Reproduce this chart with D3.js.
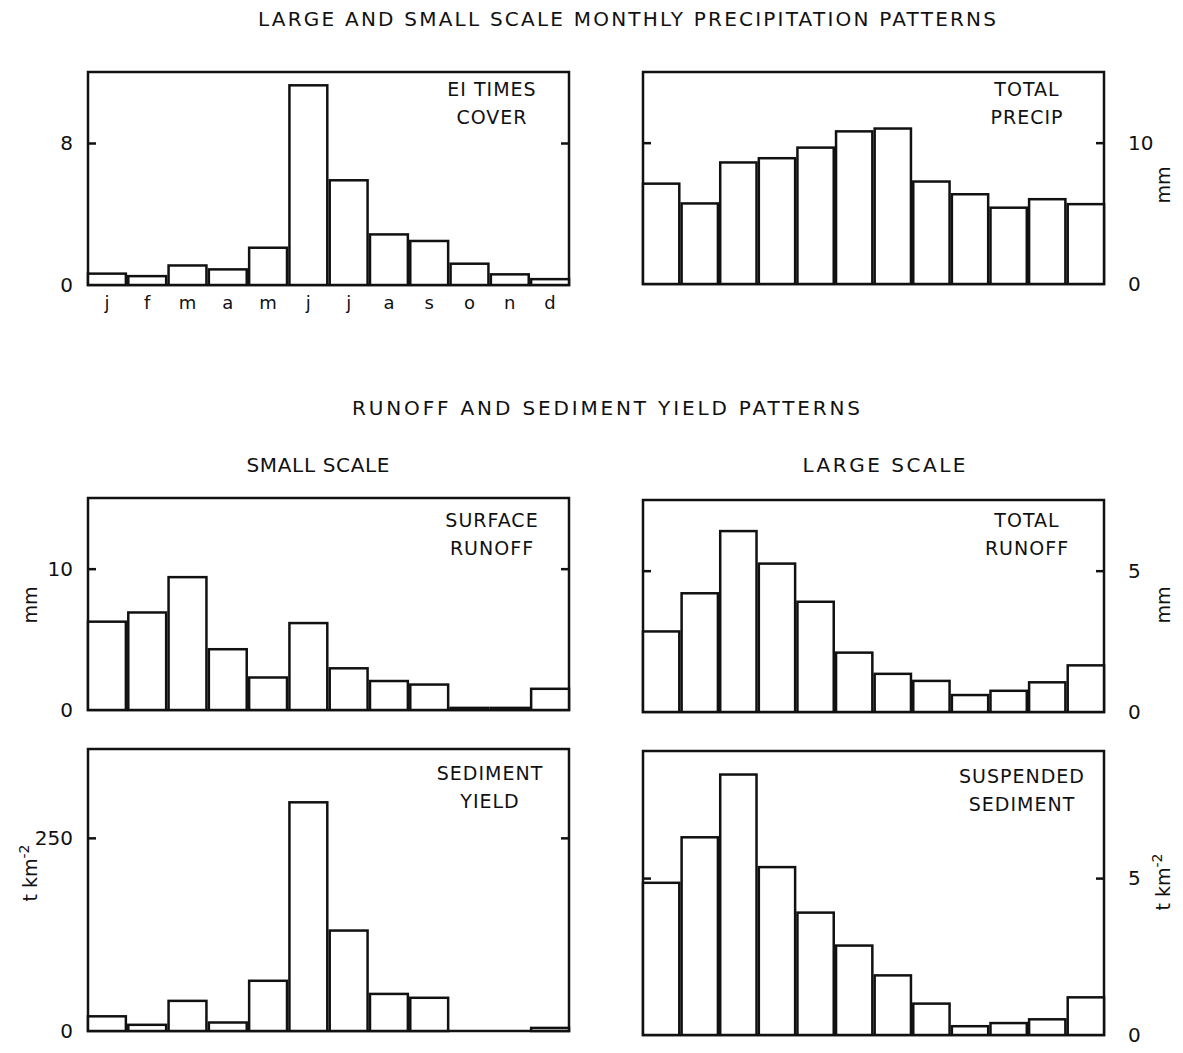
<!DOCTYPE html>
<html>
<head>
<meta charset="utf-8">
<script src="https://cdn.jsdelivr.net/npm/d3@7"></script>
<style>
  body { margin: 0; background: #fff; }
  text { font-family: "DejaVu Sans", sans-serif; fill: #111; }
</style>
</head>
<body>
<svg id="chart"></svg>
<script>
// monthly values
var months = ["j", "f", "m", "a", "m", "j", "j", "a", "s", "o", "n", "d"];
var eiCover = [0.64, 0.5, 1.1, 0.88, 2.1, 11.25, 5.9, 2.85, 2.48, 1.2, 0.6, 0.33];
var totalPrecip = [7.1, 5.7, 8.6, 8.9, 9.65, 10.8, 11.0, 7.25, 6.35, 5.4, 6.0, 5.65];
var surfaceRunoff = [6.25, 6.9, 9.4, 4.3, 2.3, 6.15, 2.95, 2.05, 1.8, 0.15, 0.15, 1.5];
var totalRunoff = [2.85, 4.2, 6.4, 5.25, 3.9, 2.1, 1.35, 1.1, 0.6, 0.75, 1.05, 1.65];
var sedimentYield = [19, 8, 39, 11, 65, 296, 130, 48, 43, 0, 0, 4];
var suspendedSediment = [4.85, 6.3, 8.3, 5.35, 3.9, 2.85, 1.9, 1.0, 0.28, 0.38, 0.5, 1.2];

var W = 1183, H = 1053;
var svg = d3.select("#chart").attr("width", W).attr("height", H);

// panel layout
var panels = [
  { data: eiCover, x0: 88, x1: 569, y0: 72, y1: 285, max: 12, tick: 8, side: "left",
    label: ["EI TIMES", "COVER"], lx: 492, ly: 96, months: true },
  { data: totalPrecip, x0: 643, x1: 1104, y0: 72, y1: 284, max: 15, tick: 10, side: "right",
    label: ["TOTAL", "PRECIP"], lx: 1027, ly: 96, unit: "mm", uy: 185 },
  { data: surfaceRunoff, x0: 88, x1: 569, y0: 498, y1: 710, max: 15, tick: 10, side: "left",
    label: ["SURFACE", "RUNOFF"], lx: 492, ly: 527, unit: "mm", uy: 605 },
  { data: totalRunoff, x0: 643, x1: 1104, y0: 500, y1: 712, max: 7.5, tick: 5, side: "right",
    label: ["TOTAL", "RUNOFF"], lx: 1027, ly: 527, unit: "mm", uy: 605 },
  { data: sedimentYield, x0: 88, x1: 569, y0: 749, y1: 1031, max: 365, tick: 250, side: "left",
    label: ["SEDIMENT", "YIELD"], lx: 490, ly: 780, unit: "tkm", uy: 873 },
  { data: suspendedSediment, x0: 643, x1: 1104, y0: 751, y1: 1035, max: 9.05, tick: 5, side: "right",
    label: ["SUSPENDED", "SEDIMENT"], lx: 1022, ly: 783, unit: "tkm", uy: 882 }
];

panels.forEach(function (p) {
  var g = svg.append("g");

  var x = d3.scaleBand()
    .domain(d3.range(12))
    .range([p.x0, p.x1])
    .paddingInner(0.06)
    .paddingOuter(0);
  var y = d3.scaleLinear().domain([0, p.max]).range([p.y1, p.y0]);

  // frame
  g.append("rect")
    .attr("x", p.x0).attr("y", p.y0)
    .attr("width", p.x1 - p.x0).attr("height", p.y1 - p.y0)
    .attr("fill", "none").attr("stroke", "#111").attr("stroke-width", 2.5);

  // bars
  g.selectAll("rect.bar")
    .data(p.data)
    .enter()
    .append("rect")
    .attr("class", "bar")
    .attr("x", function (d, i) { return x(i); })
    .attr("y", function (d) { return y(d); })
    .attr("width", x.bandwidth())
    .attr("height", function (d) { return y(0) - y(d); })
    .attr("fill", "#fff")
    .attr("stroke", "#111")
    .attr("stroke-width", 2.5);

  // inward ticks on both sides
  var left = d3.axisRight(y).tickValues([p.tick]).tickSize(8).tickFormat("");
  var right = d3.axisLeft(y).tickValues([p.tick]).tickSize(8).tickFormat("");
  [[left, p.x0], [right, p.x1]].forEach(function (a) {
    var ax = g.append("g").attr("transform", "translate(" + a[1] + ",0)").call(a[0]);
    ax.select(".domain").remove();
    ax.selectAll("line").attr("stroke", "#111").attr("stroke-width", 2.5);
  });

  // tick labels
  [0, p.tick].forEach(function (v) {
    g.append("text")
      .attr("x", p.side === "left" ? p.x0 - 15 : p.x1 + 24)
      .attr("y", y(v) + 7)
      .attr("text-anchor", p.side === "left" ? "end" : "start")
      .style("font-size", "20px")
      .text(v);
  });

  // unit label
  if (p.unit) {
    var ux = p.side === "left" ? 37 : 1170;
    var t = g.append("text")
      .attr("transform", "translate(" + ux + "," + p.uy + ") rotate(-90)")
      .attr("text-anchor", "middle")
      .style("font-size", "19px");
    if (p.unit === "mm") {
      t.text("mm");
    } else {
      t.text("t km");
      t.append("tspan").attr("dy", -8).style("font-size", "14px").text("-2");
    }
  }

  // inner label
  p.label.forEach(function (s, i) {
    g.append("text")
      .attr("x", p.lx)
      .attr("y", p.ly + i * 28)
      .attr("text-anchor", "middle")
      .style("font-size", "19px")
      .style("letter-spacing", "1px")
      .text(s);
  });

  // month letters
  if (p.months) {
    g.selectAll("text.month")
      .data(months)
      .enter()
      .append("text")
      .attr("class", "month")
      .attr("x", function (d, i) { return x(i) + x.bandwidth() / 2; })
      .attr("y", 309)
      .attr("text-anchor", "middle")
      .style("font-size", "18px")
      .text(function (d) { return d; });
  }
});

// headings
var heads = [
  { t: "LARGE AND SMALL SCALE MONTHLY PRECIPITATION PATTERNS", x: 627, y: 26, w: 738 },
  { t: "RUNOFF AND SEDIMENT YIELD PATTERNS", x: 606, y: 415, w: 508 },
  { t: "SMALL SCALE", x: 318, y: 472, w: 143 },
  { t: "LARGE SCALE", x: 884, y: 472, w: 163 }
];
heads.forEach(function (h) {
  svg.append("text")
    .attr("x", h.x - h.w / 2)
    .attr("y", h.y)
    .attr("textLength", h.w)
    .attr("lengthAdjust", "spacing")
    .style("font-size", "20px")
    .text(h.t);
});
</script>
</body>
</html>
